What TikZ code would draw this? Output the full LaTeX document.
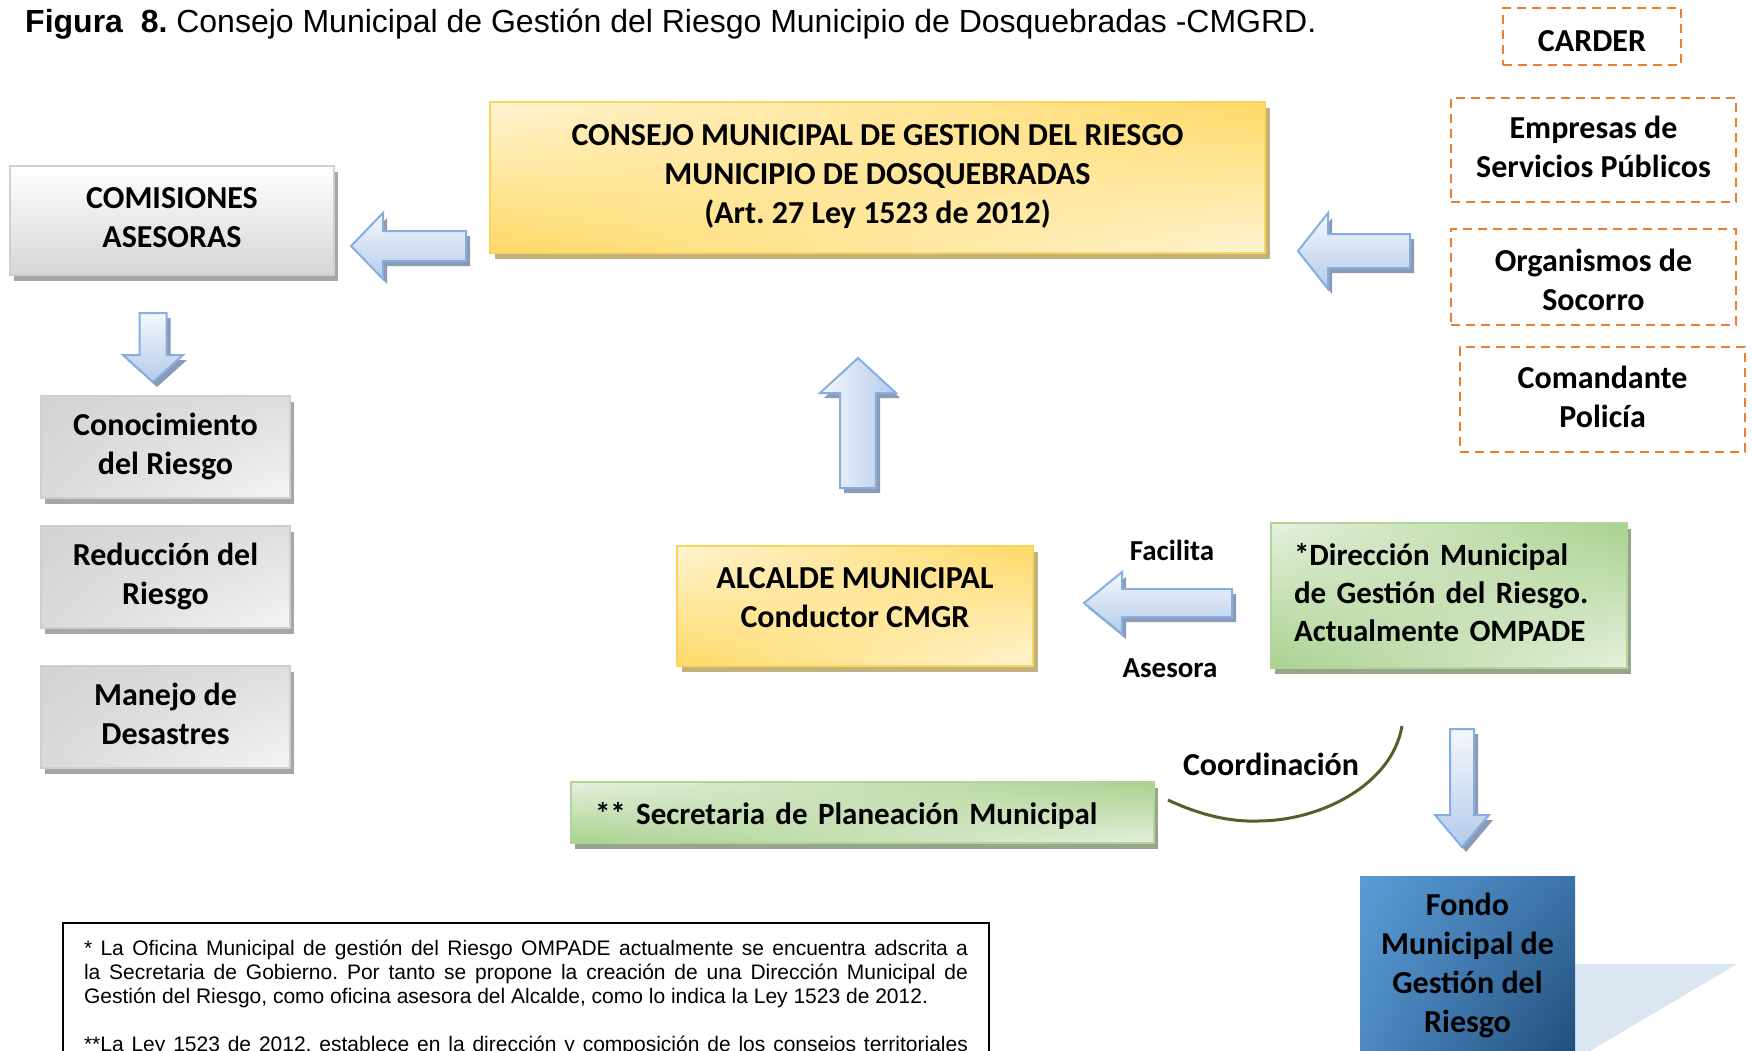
\documentclass[tikz,border=0pt]{standalone}
\usepackage{fontspec}
\setmainfont{Carlito}
\newfontfamily\arialf{Liberation Sans}
\usetikzlibrary{shadings,shadows}
\frenchspacing
\definecolor{ycream}{HTML}{FFF4D2}
\definecolor{ygold}{HTML}{FFD966}
\definecolor{yborder}{HTML}{F9D55E}
\definecolor{yshadow}{HTML}{C4B27C}
\definecolor{gbot}{HTML}{D6D6D6}
\definecolor{gborder}{HTML}{CFCFCF}
\definecolor{gshadow}{HTML}{A6A6A6}
\definecolor{gsA}{HTML}{D3D3D3}
\definecolor{gsB}{HTML}{DEDEDE}
\definecolor{gsC}{HTML}{DADADA}
\definecolor{gsD}{HTML}{F4F4F4}
\definecolor{grlight}{HTML}{E6F0DE}
\definecolor{grdark}{HTML}{A9D18E}
\definecolor{grborder}{HTML}{B0D597}
\definecolor{grshadow}{HTML}{96A58C}
\definecolor{orng}{HTML}{ED7D31}
\definecolor{arlight}{HTML}{F5F8FD}
\definecolor{ardark}{HTML}{B4CBEA}
\definecolor{arborder}{HTML}{86AEE0}
\definecolor{arshadow}{HTML}{8C9BB5}
\definecolor{blA}{HTML}{5B9BD5}
\definecolor{blB}{HTML}{3C73A8}
\definecolor{blC}{HTML}{4D88C2}
\definecolor{blD}{HTML}{1F4E79}
\definecolor{tri}{HTML}{DCE6F2}
\definecolor{curvecol}{HTML}{4F6228}
% struts: height / depth chosen to place text like the reference
\newcommand\hstr{\rule[-6pt]{0pt}{39pt}}     % 33 above, 6 below
\newcommand\lstr{\rule[-4pt]{0pt}{39pt}}     % 35 above, 4 below
\newcommand\cstr{\rule[-12.5pt]{0pt}{39pt}}  % for the council box
\tikzset{
  bx/.style={inner sep=0pt, outer sep=0pt, font=\fontsize{32}{39}\selectfont\bfseries, align=center},
  st/.style={execute at begin node=\hstr, execute at end node=\hstr},
  yellowbox/.style={bx, draw=yborder, line width=2pt, shade, upper left=ycream, upper right=ygold, lower left=ygold, lower right=ycream,
    drop shadow={shadow xshift=5pt, shadow yshift=-6pt, fill=yshadow, opacity=1}},
  graybig/.style={bx, draw=gborder, line width=2pt, top color=white, bottom color=gbot,
    drop shadow={shadow xshift=4pt, shadow yshift=-6pt, fill=gshadow, opacity=1}},
  graysmall/.style={bx, st, draw=gborder, line width=2pt, shade, upper left=gsA, upper right=gsB, lower left=gsC, lower right=gsD,
    minimum width=249pt, minimum height=102pt,
    drop shadow={shadow xshift=4pt, shadow yshift=-6pt, fill=gshadow, opacity=1}},
  greenbox/.style={bx, font=\fontsize{31}{38}\selectfont\bfseries, draw=grborder, line width=2pt, shade,
    upper left=grlight, upper right=grdark, lower left=grdark, lower right=grlight,
    drop shadow={shadow xshift=4pt, shadow yshift=-6pt, fill=grshadow, opacity=1}},
  dashbox/.style={bx, draw=orng, line width=2.5pt, dash pattern=on 9pt off 6pt},
  bluebox/.style={bx, st, shade, upper left=blA, upper right=blB, lower left=blC, lower right=blD},
  lbl/.style={font=\fontsize{29}{35}\selectfont\bfseries, inner sep=0pt, anchor=base},
  blockarrow/.style={draw=arborder, line width=2pt, line join=miter, top color=arlight, bottom color=ardark,
    drop shadow={shadow xshift=4pt, shadow yshift=-5pt, fill=arshadow, opacity=1}},
  curvestyle/.style={draw=curvecol, line width=3pt},
}
\begin{document}
\begin{tikzpicture}[x=1pt,y=-1pt]
\path[use as bounding box, fill=white] (0,0) rectangle (1752,1051);
\clip (0,0) rectangle (1752,1051);

% title
\node[anchor=base west, inner sep=0pt, font=\arialf\fontsize{32}{38}\selectfont] (title) at (25,33)
  {\textbf{Figura\ \ 8.} Consejo Municipal de Gestión del Riesgo Municipio de Dosquebradas -CMGRD.};

% right column (dashed)
\node[dashbox, minimum width=178pt, minimum height=57pt] (carder) at (1592,36.5) {\rule[-5pt]{0pt}{39.6pt}CARDER};
\node[dashbox, st, minimum width=285pt, minimum height=104pt] (empresas) at (1593.5,150) {Empresas de\\Servicios Públicos};
\node[dashbox, minimum width=285pt, minimum height=96pt] (organismos) at (1593.5,277) {\rule{0pt}{34.8pt}Organismos de\\Socorro\hstr};
\node[dashbox, st, minimum width=285pt, minimum height=105pt] (comandante) at (1602.5,399.5) {Comandante\\Policía};

% main boxes
\node[yellowbox, minimum width=775pt, minimum height=151pt] (consejo) at (877.5,177.5)
  {\cstr CONSEJO MUNICIPAL DE GESTION DEL RIESGO\\MUNICIPIO DE DOSQUEBRADAS\\(Art. 27 Ley 1523 de 2012)\cstr};
\node[graybig, st, minimum width=324pt, minimum height=109pt] (comisiones) at (172,220.5) {COMISIONES\\ASESORAS};
\node[graysmall, execute at begin node=\lstr] (conoc) at (165.5,447) {Conocimiento\\del Riesgo};
\node[graysmall] (reduc) at (165.5,577) {Reducción del\\Riesgo};
\node[graysmall] (manejo) at (165.5,717) {Manejo de\\Desastres};
\node[yellowbox, minimum width=356pt, minimum height=120pt] (alcalde) at (855,606)
  {\hstr ALCALDE MUNICIPAL\\Conductor CMGR\rule[-28.8pt]{0pt}{28.8pt}};
\node[greenbox, minimum width=356pt, minimum height=145pt, text width=310pt, align=left] (direccion) at (1449,595.5)
  {\strut*Dirección Municipal\\de Gestión del Riesgo.\\Actualmente OMPADE\strut};
\node[greenbox, minimum width=583pt, minimum height=61pt, text width=535pt, align=left] (secretaria) at (862.5,812.5)
  {\rule[-8pt]{0pt}{39.2pt}** Secretaria de Planeación Municipal};

% light blue triangle and fund box
\fill[tri] (1500,964) -- (1737,964) -- (1590,1051) -- (1500,1051) -- cycle;
\node[bluebox, minimum width=215pt, minimum height=180pt] (fondo) at (1467.5,966)
  {Fondo\\Municipal de\\Gestión del\\Riesgo};

% block arrows
\path[blockarrow] (351,246) -- (383,213) -- (383,231) -- (466,231) -- (466,261) -- (383,261) -- (383,279) -- cycle;
\path[blockarrow] (1298,251) -- (1328,213) -- (1328,234) -- (1410,234) -- (1410,268) -- (1328,268) -- (1328,289) -- cycle;
\path[blockarrow] (1084,603) -- (1122,572) -- (1122,589) -- (1232,589) -- (1232,617) -- (1122,617) -- (1122,634) -- cycle;
\path[blockarrow, left color=arlight, right color=ardark] (858,358) -- (896,393) -- (876,393) -- (876,488) -- (840,488) -- (840,393) -- (820,393) -- cycle;
\path[blockarrow] (153,382) -- (183,355) -- (166.5,355) -- (166.5,313) -- (139.5,313) -- (139.5,355) -- (123,355) -- cycle;
\path[blockarrow] (1462,847) -- (1489,815) -- (1474,815) -- (1474,729) -- (1450,729) -- (1450,815) -- (1435,815) -- cycle;

% labels
\node[lbl] (facilita) at (1172,560) {Facilita};
\node[lbl] (asesora) at (1170,677) {Asesora};
\node[lbl, font=\fontsize{32}{39}\selectfont\bfseries] (coord) at (1271,775) {Coordinación};

% coordination curve
\coordinate (c1) at (1168,800);
\coordinate (c2) at (1258,821);
\coordinate (c3) at (1402,726);
\draw[curvestyle] (c1) .. controls (1200,815) and (1230,822) .. (c2) .. controls (1320,821) and (1392,785) .. (c3);

% footnote
\node[draw=black, line width=2pt, anchor=north west, inner xsep=21pt, inner ysep=15.5pt, outer sep=0pt,
      minimum width=926pt, minimum height=0pt, text width=884pt, align=justify,
      font=\arialf\fontsize{21}{24}\selectfont] (nota) at (63,923)
  {\strut * La Oficina Municipal de gestión del Riesgo OMPADE actualmente se encuentra adscrita a\linebreak
   la Secretaria de Gobierno. Por tanto se propone la creación de una Dirección Municipal de\linebreak
   Gestión del Riesgo, como oficina asesora del Alcalde, como lo indica la Ley 1523 de 2012.\\[24pt]
   **La Ley 1523 de 2012, establece en la dirección y composición de los consejos territoriales\linebreak
   \mbox{}};
\end{tikzpicture}
\end{document}
